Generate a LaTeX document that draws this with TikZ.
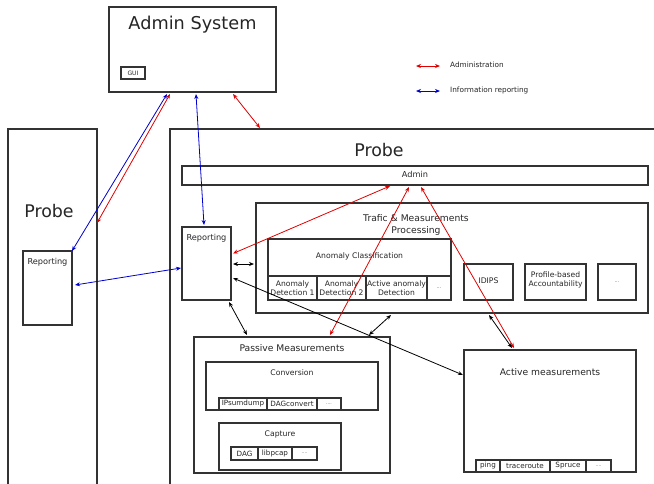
\documentclass[tikz,border=0pt]{standalone}
\usepackage{fontspec}
\setmainfont{DejaVu Sans}
\usetikzlibrary{arrows.meta}
\definecolor{boxc}{HTML}{333333}
\definecolor{admred}{HTML}{E00000}
\definecolor{repblue}{HTML}{0000CC}
\newcommand\mkbox[5]{\node[box, anchor=north west, minimum width={#4pt-#2pt}, minimum height={#5pt-#3pt}] (#1) at (#2,#3) {};}
\begin{document}
\begin{tikzpicture}[x=1pt,y=-1pt,
  box/.style={draw=boxc, line width=1.1pt, inner sep=0pt, outer sep=0pt, fill=white},
  lbl/.style={inner sep=0pt, text=black!85},
  arr/.style={<->, >={Stealth[length=5pt,width=4pt]}, line width=0.8pt},
  adm/.style={arr, draw=admred, >={Stealth[length=5pt,width=4pt,fill=admred]}},
  rep/.style={arr, draw=repblue},
  blk/.style={arr, draw=black}]
\clip (0,0) rectangle (654,483);
\fill[white] (0,0) rectangle (654,483);
% Admin System
\mkbox{adms}{109}{7}{276}{92}
\node[lbl, font=\fontsize{17.7}{20}\selectfont] (admst) at (192.5,25) {Admin System};
\mkbox{gui}{121}{67}{145}{79}
\node[lbl, font=\fontsize{6}{7}\selectfont] (guit) at (gui) {GUI};
% Legend
\coordinate (l1a) at (416,66); \coordinate (l1b) at (440,66);
\coordinate (l2a) at (416,91); \coordinate (l2b) at (440,91);
\draw[adm] (l1a) -- (l1b);
\draw[rep] (l2a) -- (l2b);
\node[lbl, anchor=west, font=\fontsize{7.3}{9}\selectfont] (lt1) at (450,65) {Administration};
\node[lbl, anchor=west, font=\fontsize{7.3}{9}\selectfont] (lt2) at (450,90) {Information reporting};
% Left probe
\mkbox{lprobe}{8}{129}{97}{495}
\node[lbl, font=\fontsize{17.4}{20}\selectfont] (lprobet) at (49,211) {Probe};
\mkbox{lrep}{23}{251}{72}{325}
\node[lbl, font=\fontsize{8.2}{10}\selectfont] (lrept) at (47.5,262) {Reporting};
% Right probe
\mkbox{rprobe}{170}{129}{670}{495}
\node[lbl, font=\fontsize{17.4}{20}\selectfont] (rprobet) at (379,150) {Probe};
\mkbox{abar}{182}{166}{648}{185}
\node[lbl, font=\fontsize{8.2}{10}\selectfont] (abart) at (415,174) {Admin};
\mkbox{rrep}{182}{227}{231}{300}
\node[lbl, font=\fontsize{8.2}{10}\selectfont] (rrept) at (206.5,238) {Reporting};
% Trafic processing
\mkbox{traf}{256}{203}{648}{313}
\node[lbl, align=center, font=\fontsize{9.2}{12.5}\selectfont] (traft) at (416,225) {Trafic \& Measurements\\Processing};
\mkbox{acl}{268}{239}{451}{300}
\node[lbl, font=\fontsize{7.7}{9}\selectfont] (aclt) at (359.5,256) {Anomaly Classification};
\mkbox{ad1}{268}{276}{317}{300}
\mkbox{ad2}{317}{276}{366}{300}
\mkbox{ad3}{366}{276}{427}{300}
\mkbox{ad4}{427}{276}{451}{300}
\node[lbl, align=center, font=\fontsize{7.6}{9.5}\selectfont] (ad1t) at (ad1) {Anomaly\\Detection 1};
\node[lbl, align=center, font=\fontsize{7.6}{9.5}\selectfont] (ad2t) at (ad2) {Anomaly\\Detection 2};
\node[lbl, align=center, font=\fontsize{7.6}{9.5}\selectfont] (ad3t) at (ad3) {Active anomaly\\Detection};
\node[lbl, font=\fontsize{5}{6}\selectfont, text=black!60] (ad4t) at (ad4) {...};
\mkbox{idips}{464}{264}{513}{300}
\node[lbl, font=\fontsize{7.7}{9}\selectfont] (idipst) at (488.5,281) {IDIPS};
\mkbox{pba}{525}{264}{586}{300}
\node[lbl, align=center, font=\fontsize{7.6}{9.5}\selectfont] (pbat) at (555.5,280) {Profile-based\\Accountability};
\mkbox{pdots}{598}{264}{636}{300}
\node[lbl, font=\fontsize{5}{6}\selectfont, text=black!60] (pdotst) at (pdots) {...};
% Passive measurements
\mkbox{pas}{194}{337}{390}{473}
\node[lbl, font=\fontsize{9.2}{11}\selectfont] (past) at (292,348) {Passive Measurements};
\mkbox{conv}{206}{362}{378}{410}
\node[lbl, font=\fontsize{7.7}{9}\selectfont] (convt) at (292,373) {Conversion};
\mkbox{ipsd}{219}{398}{267}{410}
\mkbox{dagc}{267}{398}{317}{410}
\mkbox{cdots}{317}{398}{341}{410}
\node[lbl, font=\fontsize{7.2}{8}\selectfont] (ipsdt) at (ipsd) {IPsumdump};
\node[lbl, font=\fontsize{7.2}{8}\selectfont] (dagct) at (dagc) {DAGconvert};
\node[lbl, font=\fontsize{4.5}{6}\selectfont, text=black!60] (cdotst) at (cdots) {....};
\mkbox{capt}{219}{423}{341}{470}
\node[lbl, font=\fontsize{7.7}{9}\selectfont] (captt) at (280,434) {Capture};
\mkbox{dag}{231}{447}{258}{460}
\mkbox{lpc}{258}{447}{292}{460}
\mkbox{kdots}{292}{447}{317}{460}
\node[lbl, font=\fontsize{7.2}{8}\selectfont] (dagt) at (dag) {DAG};
\node[lbl, font=\fontsize{7.2}{8}\selectfont] (lpct) at (lpc) {libpcap};
\node[lbl, font=\fontsize{4.5}{6}\selectfont, text=black!60] (kdotst) at (kdots) {....};
% Active measurements
\mkbox{act}{464}{350}{636}{472}
\node[lbl, font=\fontsize{9.2}{11}\selectfont] (actt) at (550,372) {Active measurements};
\mkbox{ping}{476}{460}{500}{472}
\mkbox{trc}{500}{460}{550}{472}
\mkbox{spr}{550}{460}{586}{472}
\mkbox{adots}{586}{460}{611}{472}
\node[lbl, font=\fontsize{7.2}{8}\selectfont] (pingt) at (ping) {ping};
\node[lbl, font=\fontsize{7.2}{8}\selectfont] (trct) at (trc) {traceroute};
\node[lbl, font=\fontsize{7.2}{8}\selectfont] (sprt) at (spr) {Spruce};
\node[lbl, font=\fontsize{4.5}{6}\selectfont, text=black!60] (adotst) at (adots) {....};
% Connectors
\draw[rep] ([xshift=-25.5pt,yshift=-2pt]adms.south) -- (lrep.north east);
\draw[adm] ([xshift=-22.5pt,yshift=-2pt]adms.south) -- ([yshift=-94pt]lprobe.north east);
\draw[rep] ([xshift=3.5pt,yshift=-2pt]adms.south) -- ([xshift=-2.5pt,yshift=2pt]rrep.north);
\draw[adm] ([xshift=40.5pt,yshift=-2pt]adms.south) -- ([xshift=90pt,yshift=1pt]rprobe.north west);
\draw[rep] ([xshift=3pt,yshift=3pt]lrep.east) -- ([xshift=-1pt,yshift=-4.5pt]rrep.west);
\draw[adm] ([xshift=-25pt,yshift=-1pt]abar.south) -- ([xshift=2pt,yshift=10pt]rrep.east);
\draw[adm] ([xshift=-6pt,yshift=-2pt]abar.south) -- ([xshift=38pt,yshift=2pt]pas.north);
\draw[adm] ([xshift=6pt,yshift=-2pt]abar.south) -- ([xshift=-36pt,yshift=2pt]act.north);
\draw[blk] ([xshift=2pt,yshift=-0.5pt]rrep.east) -- ([xshift=-2pt,yshift=-6pt]traf.west);
\draw[blk] ([xshift=2pt,yshift=-14.5pt]rrep.east) -- ([xshift=-1pt,yshift=36pt]act.west);
\draw[blk] ([xshift=22.5pt,yshift=-2pt]rrep.south) -- ([xshift=-45pt,yshift=2pt]pas.north);
\draw[blk] ([xshift=-61pt,yshift=-2pt]traf.south) -- ([xshift=77pt,yshift=2pt]pas.north);
\draw[blk] ([xshift=37pt,yshift=-2pt]traf.south) -- ([xshift=-38pt,yshift=2pt]act.north);
\end{tikzpicture}
\end{document}
